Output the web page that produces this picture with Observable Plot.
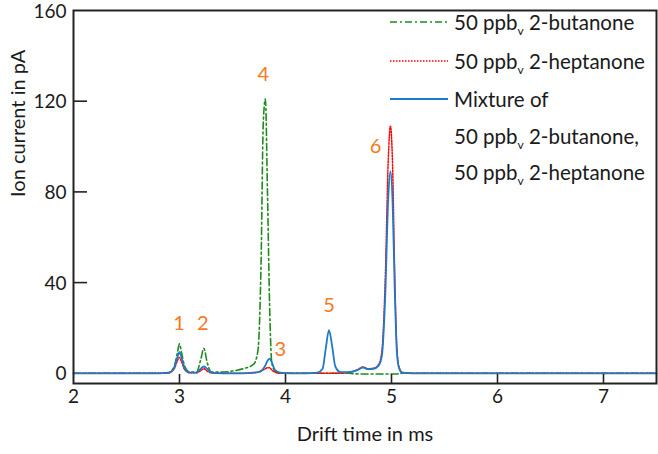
<!DOCTYPE html>
<html><head><meta charset="utf-8">
<script src="https://cdn.jsdelivr.net/npm/d3@7"></script>
<script src="https://cdn.jsdelivr.net/npm/@observablehq/plot@0.6"></script>
<style>
body{margin:0;background:#fff;}
#wrap{position:relative;width:658px;height:454px;font-family:Lato,sans-serif;color:#1a1a1a;}
#wrap > svg{overflow:visible;}
.row{position:absolute;white-space:nowrap;height:32px;line-height:32px;font-size:20.5px;}
.row sub{font-size:12px;vertical-align:-5px;line-height:0;}
.sample{position:absolute;left:390px;width:58px;height:4px;}
</style></head>
<body><div id="wrap"></div>
<script>
const time = [2.0, 2.4, 2.8, 2.9, 2.95, 2.98, 3.0, 3.02, 3.05, 3.1, 3.16, 3.2, 3.23, 3.26, 3.3, 3.4, 3.5, 3.6, 3.7, 3.74, 3.77, 3.79, 3.81, 3.83, 3.85, 3.87, 3.9, 3.95, 4.05, 4.2, 4.3, 4.35, 4.38, 4.41, 4.44, 4.47, 4.52, 4.6, 4.68, 4.73, 4.78, 4.83, 4.88, 4.91, 4.94, 4.97, 4.99, 5.01, 5.03, 5.05, 5.07, 5.1, 5.2, 5.5, 6.0, 6.5, 7.0, 7.5];
const butanone = [0, 0, 0, 0.3, 3, 9, 13, 9, 3, 0.5, 0.5, 6, 11, 5, 0.5, 0.5, 1, 2, 4, 10, 50, 110, 121, 80, 30, 5, 1, 0, 0, 0, 0, 0, 0, 0, 0, 0, 0, 0, -0.3, -0.3, -0.3, -0.3, -0.3, -0.3, -0.3, -0.3, -0.3, -0.3, -0.3, -0.3, -0.2, 0, 0, 0, 0, 0, 0, 0];
const heptanone = [0, 0, 0, 0.2, 2, 5.5, 7, 5, 1.5, 0.2, 0.2, 1.2, 2, 1, 0.2, 0, 0, 0, 0.2, 0.5, 1, 1.5, 2, 2.5, 2.5, 1.5, 0.5, 0, 0, 0, 0, 0, 0, 0, 0, 0, 0, 0.5, 1.5, 2.8, 2, 2.2, 4, 10, 40, 95, 109, 92, 45, 12, 3, 0.5, 0, 0, 0, 0, 0, 0];
const mixture = [0, 0, 0, 0.3, 2.5, 7, 9.3, 7, 2, 0.3, 0.3, 2, 3, 2, 0.3, 0, 0, 0, 0.3, 0.5, 1, 2, 3.5, 5.5, 6.5, 5, 1.5, 0.3, 0, 0, 0.3, 2, 11, 19, 12, 3, 0.5, 0.5, 1.5, 2.5, 1.8, 2, 3.5, 8, 33, 78, 89, 76, 38, 10, 2.5, 0.3, 0, 0, 0, 0, 0, 0];

const peakLabels = ["1", "2", "3", "4", "5", "6"];
const peakX = [2.995, 3.22, 3.95, 3.79, 4.41, 4.85];
const peakY = [21.9, 21.9, 10.4, 131.6, 29.8, 99.9];

const xTicks = [2, 3, 4, 5, 6, 7];
const yTicks = [0, 40, 80, 120, 160];
const xTickMarks = [3, 4, 5, 6, 7];
const yTickMarks = [40, 80, 120];

const colors = {butanone: "#1e8c1e", heptanone: "#ff0000", mixture: "#1f78c8"};

const W = 658, H = 454, mL = 73, mR = 2, mT = 10, mB = 71;
const frameW = W - mL - mR, frameH = H - mT - mB;

const series = (vals) => time.map((t, i) => ({t, v: vals[i]}));

const chart = Plot.plot({
  width: W, height: H,
  marginLeft: mL, marginRight: mR, marginTop: mT, marginBottom: mB,
  style: {fontFamily: "Lato, sans-serif", fontSize: "19px", color: "#1a1a1a", background: "white", overflow: "visible"},
  x: {domain: [2, 7.5]},
  y: {domain: [-4.5, 160]},
  marks: [
    Plot.line(series(butanone), {x: "t", y: "v", stroke: colors.butanone, strokeWidth: 1.6, strokeDasharray: "7,3,2,3", curve: "monotone-x"}),
    Plot.line(series(heptanone), {x: "t", y: "v", stroke: colors.heptanone, strokeWidth: 1.5, strokeDasharray: "1.5,1.5", curve: "monotone-x"}),
    Plot.line(series(mixture), {x: "t", y: "v", stroke: colors.mixture, strokeWidth: 1.8, curve: "monotone-x"}),
    Plot.frame({stroke: "#222", strokeWidth: 2}),
    Plot.tickX(xTickMarks, {x: d => d, insetTop: frameH - 9, stroke: "#222", strokeWidth: 1.6}),
    Plot.tickY(yTickMarks, {y: d => d, insetRight: frameW - 14, stroke: "#222", strokeWidth: 1.6}),
    Plot.axisX({ticks: xTicks, tickSize: 0, tickPadding: 6, tickFormat: d => String(d), fontSize: 19, label: null}),
    Plot.axisY({ticks: yTicks, tickSize: 0, tickPadding: 7, tickFormat: d => String(d), fontSize: 19, label: null, dy: 1}),
    Plot.text(peakLabels, {x: (d, i) => peakX[i], y: (d, i) => peakY[i], text: d => d, fill: "#f47920", fontSize: 20}),
    Plot.text(["Drift time in ms"], {frameAnchor: "bottom", dy: 57, text: d => d, fontSize: 20, fill: "#1a1a1a"}),
    Plot.text(["Ion current in pA"], {frameAnchor: "left", dx: -55, rotate: -90, text: d => d, fontSize: 20, fill: "#1a1a1a"})
  ]
});

const wrap = document.getElementById("wrap");
wrap.appendChild(chart);

const legendRows = [
  {cy: 22, key: "butanone", html: "50 ppb<sub>v</sub> 2-butanone"},
  {cy: 61, key: "heptanone", html: "50 ppb<sub>v</sub> 2-heptanone"},
  {cy: 99, key: "mixture", html: "Mixture of"},
  {cy: 136, key: null, html: "50 ppb<sub>v</sub> 2-butanone,"},
  {cy: 172, key: null, html: "50 ppb<sub>v</sub> 2-heptanone"}
];
const dash = {butanone: "7,3,2,3", heptanone: "1.5,1.5", mixture: null};
for (const r of legendRows) {
  const d = document.createElement("div");
  d.className = "row";
  d.style.left = "454px";
  d.style.top = (r.cy - 16) + "px";
  d.innerHTML = r.html;
  wrap.appendChild(d);
  if (r.key) {
    const s = document.createElementNS("http://www.w3.org/2000/svg", "svg");
    s.setAttribute("class", "sample");
    s.setAttribute("width", 58); s.setAttribute("height", 4);
    s.style.top = (r.cy - 2) + "px";
    const l = document.createElementNS("http://www.w3.org/2000/svg", "line");
    l.setAttribute("x1", 0); l.setAttribute("x2", 58); l.setAttribute("y1", 2); l.setAttribute("y2", 2);
    l.setAttribute("stroke", colors[r.key]);
    l.setAttribute("stroke-width", r.key === "mixture" ? 1.8 : 1.5);
    if (dash[r.key]) l.setAttribute("stroke-dasharray", dash[r.key]);
    s.appendChild(l);
    wrap.appendChild(s);
  }
}
</script></body></html>
